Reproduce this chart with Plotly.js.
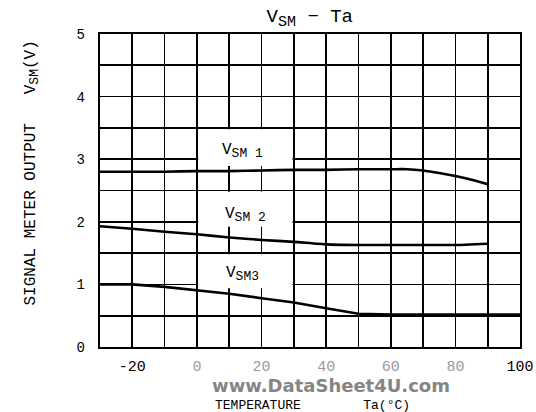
<!DOCTYPE html>
<html>
<head>
<meta charset="utf-8">
<script src="https://cdn.plot.ly/plotly-3.0.1.min.js"></script>
<style>html,body{margin:0;padding:0;background:#fff;}#chart{width:536px;height:412px;}</style>
</head>
<body>
<div id="chart"></div>
<script>
// Data
const temps1 = [-30, -20, -10, 0, 10, 20, 30, 40, 50, 60, 65, 70, 75, 80, 85, 90];
const vsm1   = [2.80, 2.80, 2.80, 2.81, 2.81, 2.82, 2.83, 2.83, 2.84, 2.84, 2.84, 2.82, 2.78, 2.73, 2.67, 2.60];

const temps2 = [-30, -20, -10, 0, 10, 20, 30, 40, 50, 60, 70, 80, 90];
const vsm2   = [1.93, 1.89, 1.84, 1.80, 1.75, 1.71, 1.68, 1.64, 1.63, 1.63, 1.63, 1.63, 1.65];

const temps3 = [-30, -20, -10, 0, 10, 20, 30, 40, 50, 60, 70, 80, 90, 100];
const vsm3   = [1.00, 1.00, 0.96, 0.91, 0.85, 0.78, 0.71, 0.62, 0.53, 0.52, 0.52, 0.52, 0.52, 0.52];

const xTickVals = [-20, 0, 20, 40, 60, 80, 100];
const xTickText = ['-20', '<span style="color:#9a9a9a">0</span>', '<span style="color:#9a9a9a">20</span>',
                   '<span style="color:#9a9a9a">40</span>', '<span style="color:#9a9a9a">60</span>',
                   '<span style="color:#9a9a9a">80</span>', '100'];
const yTickVals = [0, 1, 2, 3, 4, 5];

const SUB = s => '<sub><span style="font-size:13px">' + s + '</span></sub>';
const seriesNames = ['V' + SUB('SM 1'), 'V' + SUB('SM 2'), 'V' + SUB('SM3')];
const labelX = [14, 15, 14];
const labelY = [3.13, 2.11, 1.17];

const FONT = '"Liberation Mono", "Courier New", monospace';
const lineStyle = {color: '#000', width: 2.6};

const traces = [
  {x: temps1, y: vsm1, mode: 'lines', line: Object.assign({shape: 'spline', smoothing: 0.6}, lineStyle), hoverinfo: 'skip'},
  {x: temps2, y: vsm2, mode: 'lines', line: Object.assign({shape: 'spline', smoothing: 0.4}, lineStyle), hoverinfo: 'skip'},
  {x: temps3, y: vsm3, mode: 'lines', line: Object.assign({shape: 'linear'}, lineStyle), hoverinfo: 'skip'}
];

// white label boxes (drawn above grid, below curves)
const boxes = [
  {x0: 0.4, x1: 29.6, y0: 2.89, y1: 3.48},
  {x0: 0.4, x1: 29.6, y0: 1.92, y1: 2.48},
  {x0: 0.4, x1: 29.6, y0: 0.94, y1: 1.48}
].map(b => Object.assign({type: 'rect', xref: 'x', yref: 'y', layer: 'between',
  fillcolor: '#fff', line: {width: 0}}, b));

const annotations = seriesNames.map((t, i) => ({
  x: labelX[i], y: labelY[i], xref: 'x', yref: 'y', text: t, showarrow: false,
  font: {family: FONT, size: 16, color: '#000'}
}));

annotations.push({
  text: 'SIGNAL METER OUTPUT\u00A0\u00A0\u00A0V<sub><span style="font-size:13px">SM</span></sub>(V)', textangle: -90,
  xref: 'paper', yref: 'paper', x: -0.19, y: 0.555, showarrow: false,
  font: {family: FONT, size: 16, color: '#000'}
});
annotations.push({
  text: 'www.DataSheet4U.com', xref: 'paper', yref: 'paper', x: 0.55, y: -0.122,
  xanchor: 'center', yanchor: 'middle', showarrow: false, borderpad: 0,
  font: {family: '"DejaVu Sans", sans-serif', size: 18, color: '#858585', weight: 'bold'}
});
annotations.push({
  text: 'TEMPERATURE\u00A0\u00A0\u00A0\u00A0\u00A0\u00A0\u00A0\u00A0Ta(\u00B0C)', xref: 'paper', yref: 'paper',
  x: 0.505, y: -0.187, xanchor: 'center', yanchor: 'middle', showarrow: false, borderpad: 0,
  font: {family: FONT, size: 13, color: '#000'}
});

const layout = {
  width: 536, height: 412,
  margin: {l: 100, r: 16, t: 34, b: 65},
  paper_bgcolor: '#fff', plot_bgcolor: '#fff',
  showlegend: false,
  title: {text: 'V<sub><span style="font-size:15px">SM</span></sub> \u2212 Ta', x: 0.578, xanchor: 'center', y: 0.962, yanchor: 'middle',
          font: {family: FONT, size: 19, color: '#000'}},
  xaxis: {
    range: [-30, 100], tickvals: xTickVals, ticktext: xTickText, ticks: '',
    showgrid: true, gridcolor: '#000', gridwidth: 1.7,
    minor: {dtick: 10, tick0: -30, showgrid: true, gridcolor: '#000', gridwidth: 1.7},
    showline: true, mirror: true, linecolor: '#000', linewidth: 2.4,
    zeroline: false, ticklabelstandoff: 4,
    tickfont: {family: FONT, size: 15, color: '#000'}, fixedrange: true
  },
  yaxis: {
    range: [0, 5], tickvals: yTickVals, ticks: '',
    showgrid: true, gridcolor: '#000', gridwidth: 1.7,
    minor: {dtick: 0.5, tick0: 0, showgrid: true, gridcolor: '#000', gridwidth: 1.7},
    showline: true, mirror: true, linecolor: '#000', linewidth: 2.4,
    zeroline: false, ticklabelstandoff: 10,
    tickfont: {family: FONT, size: 14, color: '#000'}, fixedrange: true
  },
  shapes: boxes,
  annotations: annotations
};

Plotly.newPlot('chart', traces, layout, {displayModeBar: false, staticPlot: true});
</script>
</body>
</html>
